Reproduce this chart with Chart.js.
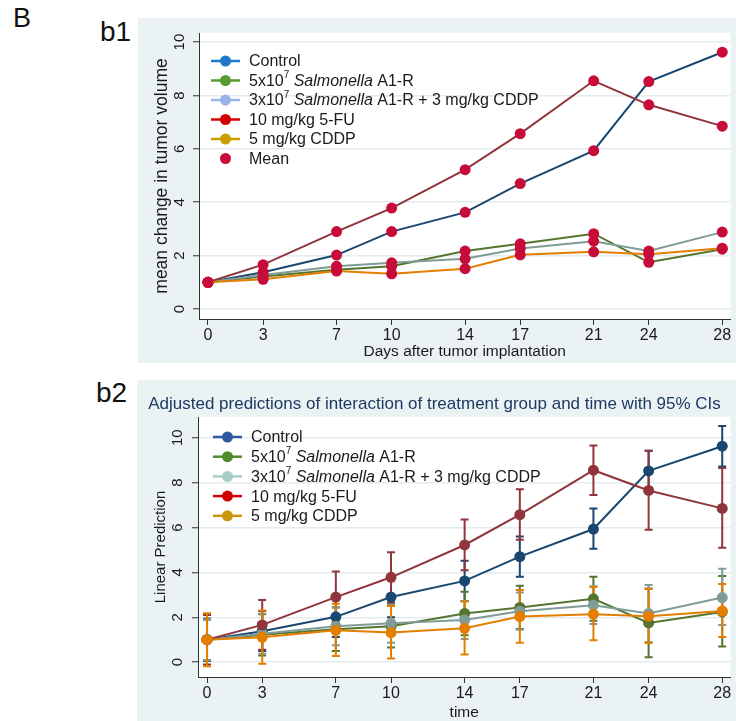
<!DOCTYPE html>
<html>
<head>
<meta charset="utf-8">
<script src="https://cdn.jsdelivr.net/npm/chart.js@4"></script>
<style>
body { margin: 0; background: #fff; width: 736px; height: 721px; position: relative; overflow: hidden; font-family: "Liberation Sans", Arial, sans-serif; }
.lbl { position: absolute; color: #111; line-height: normal; }
.box { position: absolute; background: #eaf2f3; }
</style>
</head>
<body>
<div class="lbl" style="left:13px;top:3px;font-size:27px">B</div>
<div class="lbl" style="left:100px;top:16px;font-size:28px">b1</div>
<div class="lbl" style="left:96px;top:377px;font-size:28px">b2</div>
<div class="box" style="left:138px;top:18px;width:598px;height:345px"><canvas id="c1"></canvas></div>
<div class="box" style="left:137px;top:380px;width:599px;height:341px"><canvas id="c2"></canvas></div>
<script>
// days and group names
var days = [0, 3, 7, 10, 14, 17, 21, 24, 28];
var groups = ['Control', '5x10⁷ Salmonella A1-R', '3x10⁷ Salmonella A1-R + 3 mg/kg CDDP', '10 mg/kg 5-FU', '5 mg/kg CDDP'];
var yTicks = [0, 2, 4, 6, 8, 10];

// mean change in tumor volume per group
var controlMean = [1.0, 1.38, 2.02, 2.9, 3.62, 4.7, 5.93, 8.52, 9.62];
var salmMean = [1.0, 1.22, 1.47, 1.6, 2.17, 2.44, 2.82, 1.75, 2.24];
var salmCddpMean = [1.0, 1.27, 1.6, 1.73, 1.88, 2.27, 2.54, 2.17, 2.88];
var fuMean = [1.0, 1.66, 2.9, 3.78, 5.22, 6.57, 8.55, 7.65, 6.85];
var cddpMean = [1.0, 1.11, 1.42, 1.32, 1.51, 2.03, 2.14, 2.05, 2.28];

// 95% CI bounds (b2)
var controlLo = [0.1, 0.5, 1.12, 2.0, 2.72, 3.8, 5.05, 7.62, 8.72];
var controlHi = [1.9, 2.28, 2.92, 3.8, 4.52, 5.6, 6.85, 9.42, 10.52];
var salmLo = [0.05, 0.3, 0.5, 0.65, 1.2, 1.48, 1.85, 0.22, 0.7];
var salmHi = [1.95, 2.14, 2.44, 2.55, 3.14, 3.4, 3.8, 3.28, 3.84];
var salmCddpLo = [0.1, 0.38, 0.75, 0.86, 1.03, 1.45, 1.7, 0.9, 1.66];
var salmCddpHi = [1.9, 2.16, 2.45, 2.6, 2.73, 3.1, 3.38, 3.44, 4.16];
var fuLo = [-0.1, 0.55, 1.78, 2.66, 4.1, 5.45, 7.45, 5.9, 5.1];
var fuHi = [2.1, 2.77, 4.04, 4.9, 6.35, 7.7, 9.65, 9.42, 8.65];
var cddpLo = [-0.18, -0.07, 0.27, 0.16, 0.34, 0.86, 0.98, 0.85, 1.12];
var cddpHi = [2.18, 2.3, 2.6, 2.5, 2.7, 3.22, 3.35, 3.26, 3.48];

var means = [controlMean, salmMean, salmCddpMean, fuMean, cddpMean];
var lows = [controlLo, salmLo, salmCddpLo, fuLo, cddpLo];
var highs = [controlHi, salmHi, salmCddpHi, fuHi, cddpHi];

var lineColors = ['#1a476f', '#55752f', '#7f9c96', '#90353b', '#e37e00'];
var legend1Colors = ['#1f78c8', '#5a9a32', '#98b4e4', '#d40000', '#c8a000'];
var legend2Colors = ['#2d5a9e', '#4f8c2c', '#a8ccc6', '#d00000', '#c8980a'];
var meanColor = '#c80c3a';
var textColor = '#1a1a1a';
var font = '"Liberation Sans", Arial, sans-serif';

function pts(vals) {
    return days.map(function (d, i) { return { x: d, y: vals[i] }; });
}

// draws legend text with superscript and italic parts
function drawRich(ctx, text, x, y) {
    var parts = text.split(/(⁷|Salmonella)/);
    parts.forEach(function (p) {
        if (!p) return;
        if (p === '⁷') {
            ctx.font = '10px ' + font;
            ctx.fillText('7', x, y - 6);
        } else if (p === 'Salmonella') {
            ctx.font = 'italic 16px ' + font;
            ctx.fillText(p, x, y);
        } else {
            ctx.font = '16px ' + font;
            ctx.fillText(p, x, y);
        }
        x += ctx.measureText(p === '⁷' ? '7' : p).width;
    });
}

var stata = {
    id: 'stata',
    beforeDraw: function (chart) {
        var a = chart.chartArea, ctx = chart.ctx;
        ctx.save();
        ctx.fillStyle = '#fff';
        ctx.fillRect(a.left, a.top, a.right - a.left, a.bottom - a.top);
        ctx.restore();
    },
    beforeDatasetsDraw: function (chart) {
        var ctx = chart.ctx, xs = chart.scales.x, ys = chart.scales.y;
        chart.data.datasets.forEach(function (ds) {
            if (!ds.errLo) return;
            ctx.save();
            ctx.strokeStyle = ds.borderColor;
            ctx.lineWidth = 2;
            days.forEach(function (d, i) {
                var px = xs.getPixelForValue(d);
                var lo = ys.getPixelForValue(ds.errLo[i]);
                var hi = ys.getPixelForValue(ds.errHi[i]);
                ctx.beginPath();
                ctx.moveTo(px, lo); ctx.lineTo(px, hi);
                ctx.moveTo(px - 4, lo); ctx.lineTo(px + 4, lo);
                ctx.moveTo(px - 4, hi); ctx.lineTo(px + 4, hi);
                ctx.stroke();
            });
            ctx.restore();
        });
    },
    afterDraw: function (chart, args, o) {
        var ctx = chart.ctx, a = chart.chartArea, ys = chart.scales.y;
        ctx.save();
        ctx.fillStyle = textColor;
        ctx.textAlign = 'center';
        ctx.textBaseline = 'middle';
        // rotated y tick labels
        ctx.font = '15px ' + font;
        yTicks.forEach(function (v) {
            ctx.save();
            ctx.translate(o.yLabelX, ys.getPixelForValue(v));
            ctx.rotate(-Math.PI / 2);
            ctx.fillText(String(v), 0, 0);
            ctx.restore();
        });
        // y title
        ctx.save();
        ctx.font = o.yTitleSize + 'px ' + font;
        ctx.translate(o.yTitleX, (a.top + a.bottom) / 2);
        ctx.rotate(-Math.PI / 2);
        ctx.fillText(o.yTitle, 0, 0);
        ctx.restore();
        // x title
        ctx.font = '15.5px ' + font;
        ctx.fillText(o.xTitle, (a.left + a.right) / 2, o.xTitleY);
        // legend
        ctx.textAlign = 'left';
        o.legend.forEach(function (it, i) {
            var y = a.top + o.legTop + i * o.legDy;
            var x0 = a.left + o.legLeft;
            ctx.strokeStyle = it.color;
            ctx.fillStyle = it.color;
            if (it.line) {
                ctx.lineWidth = 2.5;
                ctx.beginPath();
                ctx.moveTo(x0, y); ctx.lineTo(x0 + 29, y);
                ctx.stroke();
            }
            ctx.beginPath();
            ctx.arc(x0 + 14.5, y, 5.5, 0, Math.PI * 2);
            ctx.fill();
            ctx.fillStyle = textColor;
            drawRich(ctx, it.text, x0 + 38, y + 1);
        });
        ctx.restore();
    }
};

function makeScales(yMin, yMax) {
    return {
        x: {
            type: 'linear', min: -0.49, max: 28.45,
            afterBuildTicks: function (s) { s.ticks = days.map(function (v) { return { value: v }; }); },
            afterFit: function (s) { s.height = 44; },
            ticks: { color: textColor, font: { size: 16, family: font }, padding: 1, maxRotation: 0, autoSkip: false },
            grid: { drawOnChartArea: false, tickColor: '#333', tickLength: 6 },
            border: { color: '#333', width: 1 }
        },
        y: {
            type: 'linear', min: yMin, max: yMax,
            afterBuildTicks: function (s) { s.ticks = yTicks.map(function (v) { return { value: v }; }); },
            afterFit: function (s) { s.width = 61; },
            ticks: { color: 'rgba(0,0,0,0)', font: { size: 15, family: font } },
            grid: { color: '#e3ecef', lineWidth: 1.5, tickColor: '#333', tickLength: 6, tickWidth: 1 },
            border: { color: '#333', width: 1 }
        }
    };
}

// b1: means with crimson markers
var legend1 = groups.map(function (g, i) { return { text: g, color: legend1Colors[i], line: true }; });
legend1.push({ text: 'Mean', color: meanColor, line: false });

new Chart(document.getElementById('c1'), {
    type: 'line',
    data: {
        datasets: groups.map(function (g, i) {
            return {
                label: g, data: pts(means[i]), order: 5 - i,
                borderColor: lineColors[i], borderWidth: 2,
                pointRadius: 5.5, pointBackgroundColor: meanColor, pointBorderWidth: 0
            };
        })
    },
    options: {
        responsive: true, maintainAspectRatio: false, animation: false,
        layout: { padding: { top: 15, right: 3, left: 0, bottom: 0 } },
        scales: makeScales(-0.375, 10.34),
        plugins: {
            legend: { display: false }, tooltip: { enabled: false },
            stata: {
                legend: legend1, legTop: 28, legDy: 19.5, legLeft: 12,
                yLabelX: 42, yTitleX: 24, yTitleSize: 17.5, yTitle: 'mean change in tumor volume',
                xTitle: 'Days after tumor implantation', xTitleY: 334
            }
        }
    },
    plugins: [stata]
});

// b2: adjusted predictions with 95% CIs
var legend2 = groups.map(function (g, i) { return { text: g, color: legend2Colors[i], line: true }; });

new Chart(document.getElementById('c2'), {
    type: 'line',
    data: {
        datasets: groups.map(function (g, i) {
            return {
                label: g, data: pts(means[i]), order: 5 - i,
                errLo: lows[i], errHi: highs[i],
                borderColor: lineColors[i], borderWidth: 2,
                pointRadius: 5.5, pointBackgroundColor: lineColors[i], pointBorderWidth: 0
            };
        })
    },
    options: {
        responsive: true, maintainAspectRatio: false, animation: false,
        layout: { padding: { top: 0, right: 4, left: 0, bottom: 0 } },
        scales: makeScales(-0.66, 10.92),
        plugins: {
            legend: { display: false }, tooltip: { enabled: false },
            title: {
                display: true,
                text: 'Adjusted predictions of interaction of treatment group and time with 95% CIs',
                color: '#1e3a64', font: { size: 17, family: font, weight: 'normal' },
                padding: { top: 14, bottom: 2.6 }
            },
            stata: {
                legend: legend2, legTop: 20, legDy: 19.7, legLeft: 15,
                yLabelX: 41, yTitleX: 24, yTitleSize: 15, yTitle: 'Linear Prediction',
                xTitle: 'time', xTitleY: 333
            }
        }
    },
    plugins: [stata]
});
</script>
</body>
</html>
